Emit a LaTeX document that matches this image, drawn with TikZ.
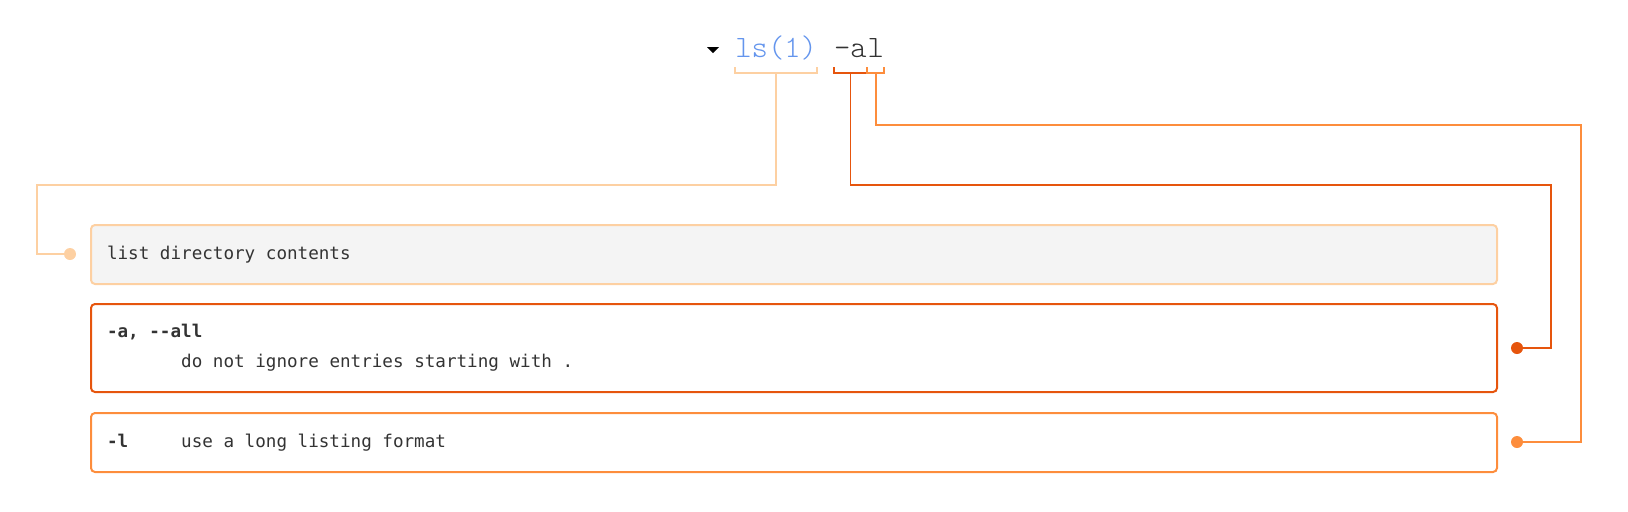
\documentclass[tikz,border=0pt]{standalone}
\usepackage{fontspec}
\newfontfamily\cmdfont{lmmonolt10-regular.otf}
\newfontfamily\manfont{DejaVu Sans Mono}
\usepackage{tikz}
\usetikzlibrary{positioning}
\definecolor{lsblue}{HTML}{6495ED}
\definecolor{lsline}{HTML}{FDD0A2}
\definecolor{optA}{HTML}{E6550D}
\definecolor{optL}{HTML}{FD8D3C}
\definecolor{boxgray}{HTML}{F4F4F4}
\definecolor{ink}{HTML}{333333}

\begin{document}
\begin{tikzpicture}[x=0.5pt,y=-0.5pt,node distance=9pt,
	cmd/.style={inner sep=0pt,anchor=base west,font=\cmdfont\fontsize{15.55}{18}\selectfont},
	man box/.style={draw,rounded corners=2pt,line width=1pt,text width=687pt,inner xsep=8pt,inner ysep=0pt,align=left,text=ink,font=\manfont\fontsize{8.8}{15}\selectfont,execute at begin node={\spaceskip=0.602em\relax}},
	wire/.style={line width=0.75pt},
	brace/.style={line width=1pt},
	dot/.style={circle,inner sep=0pt,minimum size=6pt}]

	\useasboundingbox (0,0) rectangle (1628,511);

	% command line
	\fill (707,47) -- (719,47) -- (713,53) -- cycle;
	\node[cmd,text=lsblue] (ls) at (735,57) {ls(1)};
	\node[cmd,text=ink] (a) at ([xshift=8.16pt]ls.base east) {-a};
	\node[cmd,text=ink] (l) at (a.base east) {l};

	% brackets under the words
	\draw[brace,lsline] ([shift={(0,10)}]ls.base west) -- ([shift={(0,16)}]ls.base west) -- ([shift={(0,16)}]ls.base east) -- ([shift={(0,10)}]ls.base east);
	\draw[brace,optA] ([shift={(0,10)}]a.base west) -- ([shift={(0,16)}]a.base west) -- ([shift={(0,16)}]a.base east) -- ([shift={(0,10)}]a.base east);
	\draw[brace,optL] ([shift={(0,10)}]l.base west) -- ([shift={(0,16)}]l.base west) -- ([shift={(0,16)}]l.base east) -- ([shift={(0,10)}]l.base east);

	% man page boxes
	\node[man box,draw=lsline,fill=boxgray,minimum height=29.5pt] (desc) at (794,254.5) {list directory contents};
	\node[man box,draw=optA,minimum height=44pt,below=of desc] (aopt) {\textbf{-a, --all}\\\hspace*{4.214em}do not ignore entries starting with .};
	\node[man box,draw=optL,minimum height=29.5pt,below=9.5pt of aopt] (lopt) {\textbf{-l}\hspace*{3.01em}use a long listing format};

	% dots and connectors
	\node[dot,fill=lsline] (lsdot) at (70,254) {};
	\node[dot,fill=optA] (adot) at (1517,348) {};
	\node[dot,fill=optL] (ldot) at (1517,442) {};
	\coordinate (lsbend) at (37,185);
	\coordinate (abend) at (1551,185);
	\coordinate (lbend) at (1581,125);

	\draw[wire,lsline] ([shift={(0,16)}]ls.base) |- (lsbend) |- (lsdot);
	\draw[wire,optA] ([shift={(0,16)}]a.base) |- (abend) |- (adot);
	\draw[wire,optL] ([shift={(0,16)}]l.base) |- (lbend) |- (ldot);
\end{tikzpicture}
\end{document}
